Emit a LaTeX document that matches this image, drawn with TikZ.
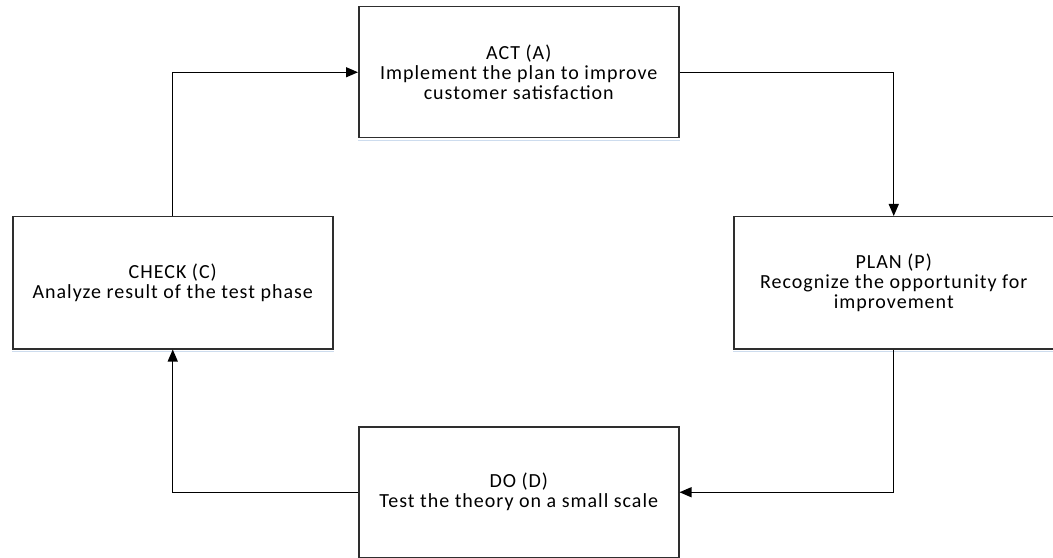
\documentclass[tikz,border=0pt]{standalone}
\usepackage{fontspec}
\setmainfont{Carlito}[LetterSpace=5]
\usetikzlibrary{arrows.meta}
\begin{document}
\begin{tikzpicture}[x=1bp,y=-1bp,
  box/.style={draw=black!82, line width=1.5bp, minimum width=320bp, minimum height=131bp,
    align=center, font=\fontsize{20bp}{20bp}\selectfont, inner sep=0pt, anchor=north west},
  conn/.style={draw=black, line width=1.3bp, -{Triangle[length=12bp,width=10bp]}},
  shade/.style={draw={rgb,255:red,205;green,220;blue,238}, line width=1.5bp}]
\useasboundingbox (0,0) rectangle (1053,558);
\node[box] (act) at (358,6) {ACT (A)\\Implement the plan to improve\\customer satisfaction};
\node[box, minimum height=132bp] (plan) at (733,216) {PLAN (P)\\Recognize the opportunity for\\improvement};
\node[box, minimum height=132bp] (check) at (12,216) {CHECK (C)\\Analyze result of the test phase};
\node[box] (do) at (358,426) {DO (D)\\Test the theory on a small scale};
\draw[shade] ([yshift=-2.2bp]act.south west) -- ([yshift=-2.2bp]act.south east);
\draw[shade] ([yshift=-2.2bp]plan.south west) -- ([yshift=-2.2bp]plan.south east);
\draw[shade] ([yshift=-2.2bp]check.south west) -- ([yshift=-2.2bp]check.south east);
\draw[conn] (check.north) |- (act.west);
\draw[conn] (act.east) -| (plan.north);
\draw[conn] (plan.south) |- (do.east);
\draw[conn] (do.west) -| (check.south);
\end{tikzpicture}
\end{document}
